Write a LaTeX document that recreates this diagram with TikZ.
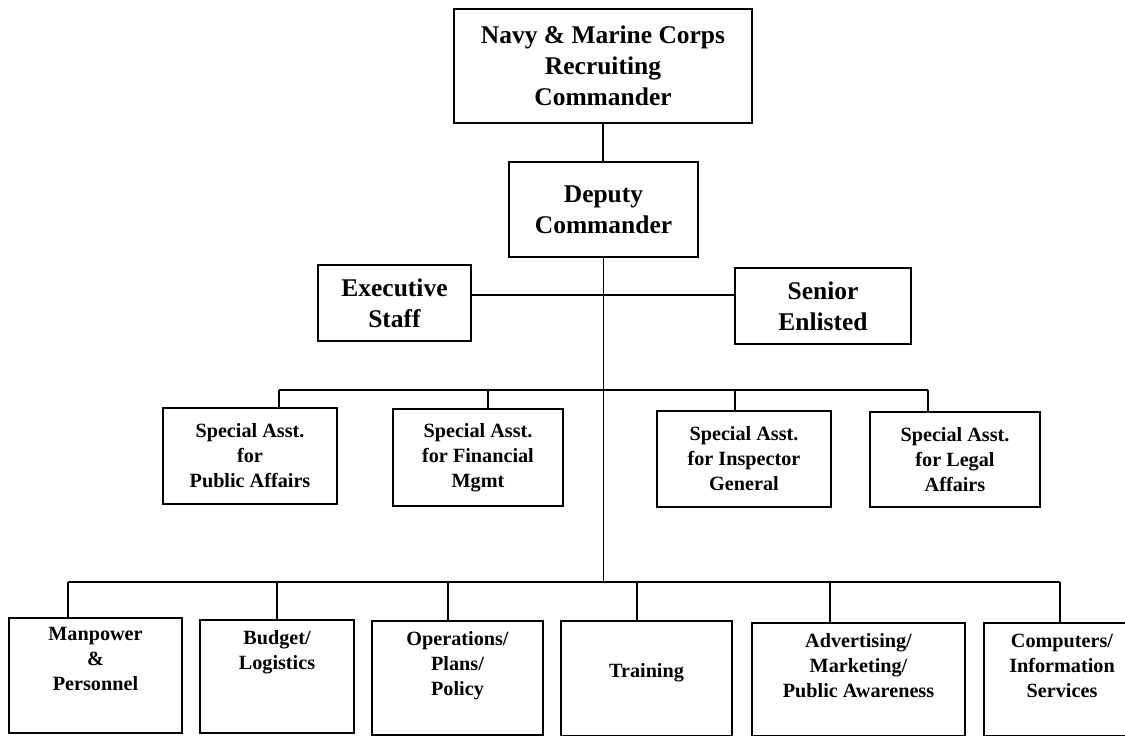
\documentclass[tikz,border=0pt]{standalone}
\usepackage{fontspec}
\setmainfont{Liberation Serif}
\usetikzlibrary{positioning}
\newcommand{\chieffont}{\fontsize{14.5pt}{17.5pt}\selectfont\bfseries}
\newcommand{\unitfont}{\fontsize{11.5pt}{14.2pt}\selectfont\bfseries}
\tikzset{
  chief/.style={
    rectangle,
    draw=black,
    line width=1pt,
    align=center,
    inner sep=0pt,
    font=\chieffont
  },
  asst/.style={
    rectangle,
    draw=black,
    line width=1pt,
    align=center,
    inner sep=0pt,
    font=\unitfont
  },
  unit/.style={
    rectangle,
    draw=black,
    line width=1pt,
    inner sep=0pt
  },
  unitlabel/.style={
    align=center,
    inner sep=0pt,
    font=\unitfont
  },
  link/.style={line width=0.8pt}
}

\begin{document}
\begin{tikzpicture}[x=0.02cm, y=-0.02cm]
  \useasboundingbox (0,0) rectangle (1125,736);

  % command level
  \node (cmdr) [chief, minimum width=5.96cm, minimum height=2.28cm] at (603,66) {Navy \& Marine Corps\\Recruiting\\Commander};
  \node (dep) [chief, minimum width=3.78cm, minimum height=1.9cm] at (603.5,209.5) {Deputy\\Commander};
  \node (exec) [chief, minimum width=3.06cm, minimum height=1.52cm] at (394.5,303) {Executive\\Staff};
  \node (senior) [chief, minimum width=3.52cm, minimum height=1.52cm] at (823,306) {Senior\\Enlisted};

  % special assistants
  \node (pubaff) [asst, minimum width=3.48cm, minimum height=1.92cm] at (250,456) {Special Asst.\\for\\Public Affairs};
  \node (finmgmt) [asst, minimum width=3.4cm, minimum height=1.94cm] at (478,457.5) {Special Asst.\\for Financial\\Mgmt};
  \node (insgen) [asst, minimum width=3.48cm, minimum height=1.92cm] at (744,459) {Special Asst.\\for Inspector\\General};
  \node (legal) [asst, minimum width=3.4cm, minimum height=1.9cm] at (955,459.5) {Special Asst.\\for Legal\\Affairs};

  % departments
  \node (manpwr) [unit, minimum width=3.46cm, minimum height=2.3cm] at (95.5,675.5) {};
  \node (budget) [unit, minimum width=3.08cm, minimum height=2.26cm] at (277,676.5) {};
  \node (ops) [unit, minimum width=3.42cm, minimum height=2.28cm] at (457.5,678) {};
  \node (train) [unit, minimum width=3.42cm, minimum height=2.3cm] at (646.5,678.5) {};
  \node (advert) [unit, minimum width=4.26cm, minimum height=2.26cm] at (858.5,679.5) {};
  \node (comp) [unit, minimum width=3.12cm, minimum height=2.26cm] at (1062,679.5) {};

  \node (manpwrT) [unitlabel, below=0.2cm of manpwr.north] {Manpower\\\&\\Personnel};
  \node (budgetT) [unitlabel, below=0.22cm of budget.north] {Budget/\\Logistics};
  \node (opsT) [unitlabel, below=0.22cm of ops.north] {Operations/\\Plans/\\Policy};
  \node (trainT) [unitlabel, below=0.86cm of train.north] {Training};
  \node (advertT) [unitlabel, below=0.22cm of advert.north] {Advertising/\\Marketing/\\Public Awareness};
  \node (compT) [unitlabel, below=0.24cm of comp.north] {Computers/\\Information\\Services};

  % bus points
  \coordinate (hub) at (601,295);
  \coordinate (abus) at (601,390);
  \coordinate (ubus) at (601,582);
  \coordinate (a1) at (279,390);
  \coordinate (a2) at (488,390);
  \coordinate (a3) at (735,390);
  \coordinate (a4) at (928,390);
  \coordinate (u1) at (68,582);
  \coordinate (u2) at (277,582);
  \coordinate (u3) at (448,582);
  \coordinate (u4) at (637,582);
  \coordinate (u5) at (830,582);
  \coordinate (u6) at (1060,582);

  % lines
  \draw[link] (cmdr.south) -- (cmdr.south |- dep.north);
  \draw[link] (dep.south) -- (dep.south |- ubus);
  \draw[link] (exec.east |- hub) -- (senior.west |- hub);
  \draw[link] (a1) -- (a4);
  \draw[link] (u1) -- (u6);
  \foreach \d/\b in {a1/pubaff, a2/finmgmt, a3/insgen, a4/legal,
                     u1/manpwr, u2/budget, u3/ops, u4/train, u5/advert, u6/comp}
    \draw[link] (\d) -- (\b.north -| \d);
\end{tikzpicture}
\end{document}
